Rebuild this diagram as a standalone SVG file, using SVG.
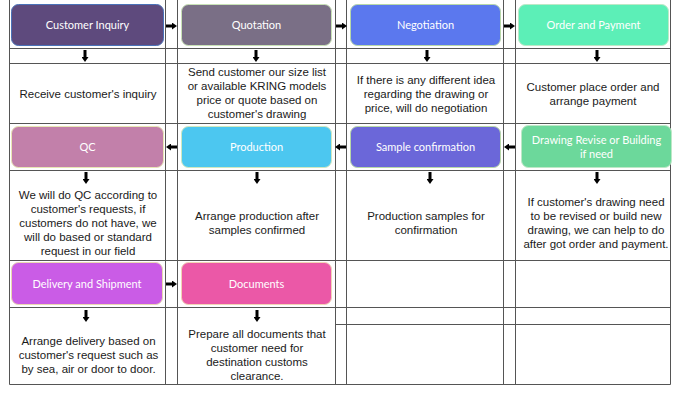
<svg xmlns="http://www.w3.org/2000/svg" width="680" height="394" viewBox="0 0 680 394">
<style>
.grid line{stroke:#555;stroke-width:1}
.box{stroke-width:1}
.lbl{font-family:Lato,"Liberation Sans",sans-serif;font-size:11px;fill:#fff;text-anchor:middle}
.txt{font-family:"Liberation Sans",Arial,sans-serif;font-size:11.5px;fill:#1a1a1a;text-anchor:middle}
.conn line{stroke:#000;stroke-width:3;fill:none;marker-end:url(#ah)}
</style>
<defs>
<marker id="ah" markerWidth="5" markerHeight="7" refX="0" refY="3.5" orient="auto" markerUnits="userSpaceOnUse"><path d="M0,0 L5,3.5 L0,7z" fill="#000"/></marker>
</defs>
<rect width="680" height="394" fill="#fff"/>
<g class="grid">
<line x1="9.5" y1="0" x2="9.5" y2="384.5"/>
<line x1="165.5" y1="0" x2="165.5" y2="384.5"/>
<line x1="177.5" y1="0" x2="177.5" y2="384.5"/>
<line x1="335.5" y1="0" x2="335.5" y2="384.5"/>
<line x1="346.5" y1="0" x2="346.5" y2="384.5"/>
<line x1="503.5" y1="0" x2="503.5" y2="384.5"/>
<line x1="515.5" y1="0" x2="515.5" y2="384.5"/>
<line x1="670.5" y1="0" x2="670.5" y2="384.5"/>
<line x1="9.5" y1="48.5" x2="670.5" y2="48.5"/>
<line x1="9.5" y1="63.5" x2="670.5" y2="63.5"/>
<line x1="9.5" y1="123.5" x2="670.5" y2="123.5"/>
<line x1="9.5" y1="170.5" x2="670.5" y2="170.5"/>
<line x1="9.5" y1="260.5" x2="670.5" y2="260.5"/>
<line x1="9.5" y1="307.5" x2="670.5" y2="307.5"/>
<line x1="335.5" y1="324.5" x2="670.5" y2="324.5"/>
<line x1="9.5" y1="384.5" x2="670.5" y2="384.5"/>
</g>
<g id="customer-inquiry"><rect class="box" x="11.5" y="4.5" width="152" height="41" rx="7" fill="#5E4A7D" stroke="#4A72B8"/><text class="lbl" x="87.5" y="29">Customer Inquiry</text><text class="txt" x="88" y="97.5">Receive customer's inquiry</text></g>
<g id="quotation"><rect class="box" x="181.5" y="4.5" width="150" height="41" rx="7" fill="#7A6F86" stroke="#C8E2B6"/><text class="lbl" x="256.5" y="29">Quotation</text><text class="txt" x="257" y="76">Send customer our size list</text><text class="txt" x="257" y="90">or available KRING models</text><text class="txt" x="257" y="104">price or quote based on</text><text class="txt" x="257" y="118">customer's drawing</text></g>
<g id="negotiation"><rect class="box" x="350.5" y="4.5" width="150" height="41" rx="7" fill="#5B78EE" stroke="#B8D8A8"/><text class="lbl" x="425.5" y="29">Negotiation</text><text class="txt" x="426" y="84">If there is any different idea</text><text class="txt" x="426" y="98">regarding the drawing or</text><text class="txt" x="426" y="112">price, will do negotiation</text></g>
<g id="order-payment"><rect class="box" x="518.5" y="4.5" width="150" height="41" rx="7" fill="#5CEFB7" stroke="#BDE8C6"/><text class="lbl" x="593.5" y="29">Order and Payment</text><text class="txt" x="593" y="91">Customer place order and</text><text class="txt" x="593" y="105">arrange payment</text></g>
<g id="qc"><rect class="box" x="11.5" y="126.5" width="152" height="41" rx="7" fill="#C280AA" stroke="#E8E6B4"/><text class="lbl" x="87.5" y="151">QC</text><text class="txt" x="88" y="198.5">We will do QC according to</text><text class="txt" x="88" y="212.5">customer's requests, if</text><text class="txt" x="88" y="226.5">customers do not have, we</text><text class="txt" x="88" y="240.5">will do based or standard</text><text class="txt" x="88" y="254.5">request in our field</text></g>
<g id="production"><rect class="box" x="181.5" y="126.5" width="150" height="41" rx="7" fill="#4CC7F0" stroke="#D0E8C0"/><text class="lbl" x="256.5" y="151">Production</text><text class="txt" x="257" y="219.5">Arrange production after</text><text class="txt" x="257" y="233.5">samples confirmed</text></g>
<g id="sample-confirmation"><rect class="box" x="350.5" y="126.5" width="150" height="41" rx="7" fill="#6B67D9" stroke="#B8D8A8"/><text class="lbl" x="425.5" y="151">Sample confirmation</text><text class="txt" x="426" y="219.5">Production samples for</text><text class="txt" x="426" y="233.5">confirmation</text></g>
<g id="drawing-revise"><rect class="box" x="521.5" y="125.5" width="150" height="42" rx="7" fill="#6CD89B" stroke="#BDE8C6"/><text class="lbl" x="596.5" y="144">Drawing Revise or Building</text><text class="lbl" x="596.5" y="158">if need</text><text class="txt" x="596" y="205.5">If customer's drawing need</text><text class="txt" x="596" y="219.5">to be revised or build new</text><text class="txt" x="596" y="233.5">drawing, we can help to do</text><text class="txt" x="596" y="247.5">after got order and payment.</text></g>
<g id="delivery-shipment"><rect class="box" x="11.5" y="262.5" width="151" height="42" rx="7" fill="#CA5CE6" stroke="#E8D8B0"/><text class="lbl" x="87" y="287.5">Delivery and Shipment</text><text class="txt" x="88.5" y="344.5">Arrange delivery based on</text><text class="txt" x="88.5" y="358.5">customer's request such as</text><text class="txt" x="88.5" y="372.5">by sea, air or door to door.</text></g>
<g id="documents"><rect class="box" x="181.5" y="262.5" width="150" height="42" rx="7" fill="#EB58A7" stroke="#F0D4B4"/><text class="lbl" x="256.5" y="287.5">Documents</text><text class="txt" x="257" y="338">Prepare all documents that</text><text class="txt" x="257" y="352">customer need for</text><text class="txt" x="257" y="366">destination customs</text><text class="txt" x="257" y="380">clearance.</text></g>
<g class="conn" id="connectors">
<line x1="166" y1="26" x2="172" y2="26"/>
<line x1="336" y1="26" x2="342" y2="26"/>
<line x1="504" y1="26" x2="510" y2="26"/>
<line x1="177" y1="147" x2="171" y2="147"/>
<line x1="346" y1="147" x2="340" y2="147"/>
<line x1="515" y1="147" x2="509" y2="147"/>
<line x1="166" y1="284" x2="172" y2="284"/>
<line x1="85" y1="50" x2="85" y2="57"/>
<line x1="256" y1="50" x2="256" y2="57"/>
<line x1="427" y1="50" x2="427" y2="57"/>
<line x1="597" y1="50" x2="597" y2="57"/>
<line x1="86" y1="172" x2="86" y2="179"/>
<line x1="257" y1="172" x2="257" y2="179"/>
<line x1="430" y1="172" x2="430" y2="179"/>
<line x1="597" y1="172" x2="597" y2="179"/>
<line x1="86" y1="310" x2="86" y2="317"/>
<line x1="257" y1="310" x2="257" y2="317"/>
</g>
</svg>
